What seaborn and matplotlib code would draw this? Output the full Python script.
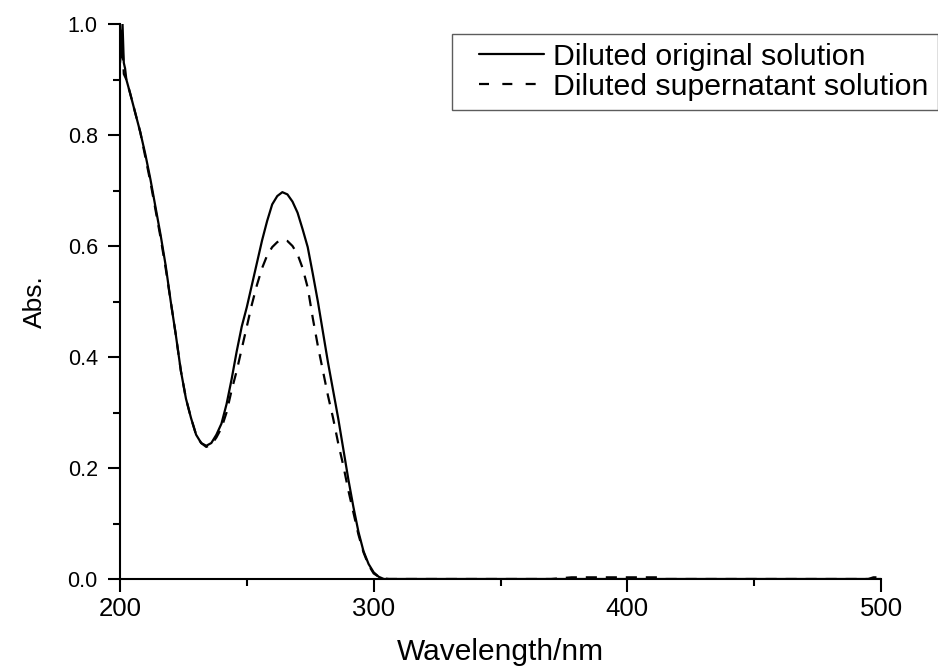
import matplotlib
matplotlib.use("Agg")
import matplotlib.pyplot as plt
from matplotlib.legend_handler import HandlerLine2D
from matplotlib.lines import Line2D
import numpy as np
import seaborn as sns
import pandas as pd

# ---- data ----
wl_original = [200, 200.5, 201, 201.5, 202, 202.5, 204, 206, 208, 210, 212, 214, 216, 218,
               220, 222, 224, 226, 228, 230, 232, 234, 236, 238, 240, 242, 244, 246,
               248, 250, 252, 254, 256, 258, 260, 262, 264, 266, 268, 270, 272, 274,
               276, 278, 280, 282, 284, 286, 288, 290, 292, 294, 296, 298, 300, 302,
               304, 320, 400, 500]
abs_original = [0.99, 0.94, 1.00, 0.93, 0.92, 0.90, 0.875, 0.84, 0.805, 0.765, 0.72, 0.67, 0.62, 0.565,
                0.50, 0.44, 0.375, 0.325, 0.29, 0.26, 0.245, 0.24, 0.245, 0.26, 0.28, 0.315, 0.36, 0.41,
                0.455, 0.49, 0.53, 0.57, 0.61, 0.645, 0.675, 0.69, 0.697, 0.693, 0.68, 0.66, 0.63, 0.598,
                0.55, 0.50, 0.445, 0.39, 0.34, 0.29, 0.235, 0.18, 0.13, 0.085, 0.05, 0.027, 0.012, 0.004,
                0.0, 0.0, 0.0, 0.0]

wl_super = [200, 200.5, 201, 201.5, 202, 202.5, 204, 206, 208, 210, 212, 214, 216, 218,
            220, 222, 224, 226, 228, 230, 232, 234, 236, 238, 240, 242, 244, 246,
            248, 250, 252, 254, 256, 258, 260, 262, 264, 266, 268, 270, 272, 274,
            276, 278, 280, 282, 284, 286, 288, 290, 292, 294, 296, 298, 300, 302,
            304, 306, 370, 378, 412, 415, 495, 497, 500]
abs_super = [0.93, 0.95, 0.96, 0.91, 0.905, 0.90, 0.875, 0.84, 0.805, 0.76, 0.715, 0.665, 0.615, 0.56,
             0.50, 0.44, 0.375, 0.325, 0.29, 0.26, 0.245, 0.238, 0.242, 0.255, 0.272, 0.30, 0.34, 0.375,
             0.415, 0.455, 0.495, 0.53, 0.56, 0.583, 0.598, 0.607, 0.611, 0.609, 0.60, 0.585, 0.56, 0.525,
             0.47, 0.42, 0.375, 0.33, 0.29, 0.245, 0.205, 0.16, 0.12, 0.08, 0.048, 0.025, 0.01, 0.004,
             0.001, 0.0, 0.0, 0.003, 0.003, 0.0, 0.0, 0.003, 0.003]

series_names = ["Diluted original solution", "Diluted supernatant solution"]
x_ticks = [200, 300, 400, 500]
y_ticks = [0.0, 0.2, 0.4, 0.6, 0.8, 1.0]

df = pd.concat([
    pd.DataFrame({"wl": wl_original, "abs": abs_original, "series": series_names[0]}),
    pd.DataFrame({"wl": wl_super, "abs": abs_super, "series": series_names[1]}),
], ignore_index=True)

sns.set_style("ticks")
plt.rcParams["font.family"] = ["Liberation Sans", "DejaVu Sans"]
plt.rcParams["text.color"] = "black"
plt.rcParams["axes.labelcolor"] = "black"

fig = plt.figure(figsize=(9.38, 6.71), dpi=100)
ax = fig.add_axes([120/938, 1-579/671, (881-120)/938, (579-24)/671])

sns.lineplot(data=df, x="wl", y="abs", hue="series", style="series",
             palette={series_names[0]: "black", series_names[1]: "black"},
             dashes={series_names[0]: "", series_names[1]: (5, 4)},
             linewidth=1.6, sort=False, estimator=None, ax=ax, legend=True)

ax.set_xlim(200, 500)
ax.set_ylim(0, 1.0)
ax.set_xticks(x_ticks)
ax.set_xticklabels([str(t) for t in x_ticks])
ax.set_yticks(y_ticks)
ax.set_yticklabels([f"{t:.1f}" for t in y_ticks])
ax.set_xticks([250, 350, 450], minor=True)
ax.set_yticks([0.1, 0.3, 0.5, 0.7, 0.9], minor=True)
ax.tick_params(which="major", direction="out", length=9, width=1.5, colors="black")
ax.tick_params(which="minor", direction="out", length=5, width=1.5, colors="black")
ax.tick_params(axis="x", which="major", labelsize=18.5, pad=4)
ax.tick_params(axis="y", which="major", labelsize=15.5, pad=7)
for side in ["left", "bottom"]:
    ax.spines[side].set_linewidth(1.5)
    ax.spines[side].set_color("black")
sns.despine(ax=ax)

ax.set_xlabel("Wavelength/nm", fontsize=21.5, labelpad=12)
ax.set_ylabel("Abs.", fontsize=19, labelpad=15)


class PaddedLineHandler(HandlerLine2D):
    """Line handle drawn with an empty lead-in on its left, as in the reference."""
    def __init__(self, lead=13, **kw):
        super().__init__(**kw)
        self.lead = lead

    def create_artists(self, legend, orig_handle, xdescent, ydescent, width, height,
                       fontsize, trans):
        artists = super().create_artists(legend, orig_handle, xdescent, ydescent,
                                         width, height, fontsize, trans)
        for a in artists:
            if isinstance(a, Line2D):
                xd = np.asarray(a.get_xdata(), dtype=float)
                if xd.size >= 2 and xd[-1] > xd[0]:
                    x0, x1 = xd[0], xd[-1]
                    a.set_xdata(x0 + self.lead + (xd - x0) * (x1 - x0 - self.lead) / (x1 - x0))
        return artists


handles, labels = ax.get_legend_handles_labels()
for h in handles:
    h.set_linewidth(1.6)
    if h.get_linestyle() not in ("-", "solid"):
        h.set_dashes((4.5, 6))
leg = ax.legend(handles=handles, labels=labels, loc="upper left",
                bbox_to_anchor=(452/938, 1-34/671), bbox_transform=fig.transFigure,
                borderaxespad=0, frameon=True, fancybox=False, edgecolor="#333333",
                fontsize=21.8, handlelength=2.75, handletextpad=0.3, labelspacing=0.05,
                borderpad=0.3,
                handler_map={Line2D: PaddedLineHandler(lead=13)})
leg.get_frame().set_linewidth(1.0)

fig.savefig("out.png", dpi=100, facecolor="white")
